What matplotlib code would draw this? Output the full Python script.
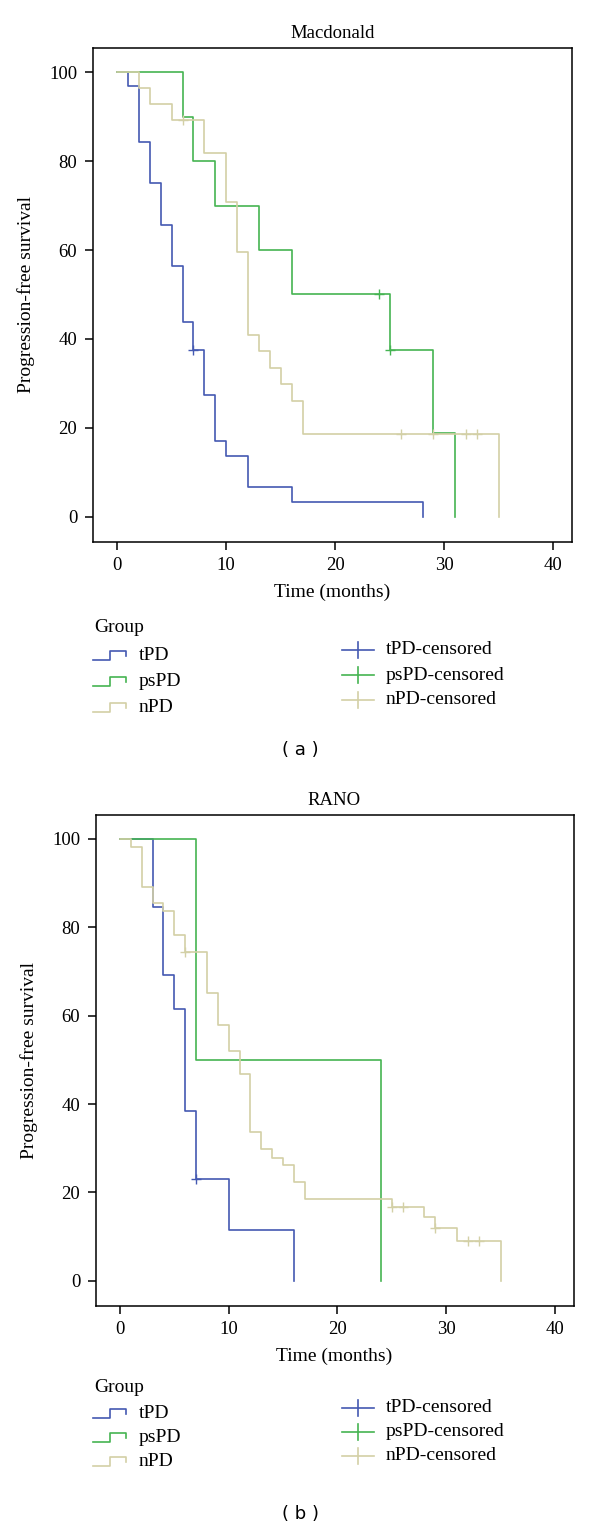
"""
Kaplan-Meier style progression-free survival curves (Macdonald vs RANO)
"""

import matplotlib

matplotlib.use("Agg")
import matplotlib.pyplot as plt

# ---- data -------------------------------------------------------------
groups = ["tPD", "psPD", "nPD"]
colors = {"tPD": "#4459B2", "psPD": "#45B452", "nPD": "#D3D0A6"}

# Macdonald
mac_tpd_t = [0, 1, 2, 3, 4, 5, 6, 7, 8, 9, 10, 12, 16, 28]
mac_tpd_s = [100, 96.8, 84.4, 75.0, 65.6, 56.3, 43.8, 37.5, 27.3, 17.0, 13.6, 6.8, 3.4, 0]
mac_tpd_cens_t = [7]
mac_tpd_cens_s = [37.5]

mac_pspd_t = [0, 6, 7, 9, 13, 16, 25, 29, 31]
mac_pspd_s = [100, 90, 80, 70, 60, 50, 37.5, 18.75, 0]
mac_pspd_cens_t = [24, 25]
mac_pspd_cens_s = [50, 37.5]

mac_npd_t = [0, 2, 3, 5, 8, 10, 11, 12, 13, 14, 15, 16, 17, 35]
mac_npd_s = [100, 96.4, 92.9, 89.3, 81.8, 70.7, 59.5, 40.9, 37.2, 33.5, 29.8, 26.0, 18.6, 0]
mac_npd_cens_t = [6, 26, 29, 32, 33]
mac_npd_cens_s = [89.3, 18.6, 18.6, 18.6, 18.6]

# RANO
rano_tpd_t = [0, 3, 4, 5, 6, 7, 10, 16]
rano_tpd_s = [100, 84.6, 69.2, 61.5, 38.5, 23.1, 11.5, 0]
rano_tpd_cens_t = [7]
rano_tpd_cens_s = [23.1]

rano_pspd_t = [0, 7, 24]
rano_pspd_s = [100, 50, 0]
rano_pspd_cens_t = []
rano_pspd_cens_s = []

rano_npd_t = [0, 1, 2, 3, 4, 5, 6, 8, 9, 10, 11, 12, 13, 14, 15, 16, 17, 25, 28, 29, 31, 35]
rano_npd_s = [100, 98.2, 89.1, 85.5, 83.7, 78.2, 74.5, 65.2, 57.8, 52.1, 46.7, 33.6,
              29.8, 27.9, 26.1, 22.3, 18.6, 16.7, 14.5, 12.0, 8.9, 0]
rano_npd_cens_t = [6, 25, 26, 29, 32, 33]
rano_npd_cens_s = [74.5, 16.7, 16.7, 12.0, 8.9, 8.9]

x_ticks = [0, 10, 20, 30, 40]
y_ticks = [0, 20, 40, 60, 80, 100]

# ---- styling ----------------------------------------------------------
plt.rcParams["font.family"] = ["Liberation Serif", "DejaVu Serif"]
W, H = 600, 1528
FS = 14
FS_TICK = 13.5


def draw_panel(ax, title, curves):
    for name, t, s, ct, cs in curves:
        ax.step(t, s, where="post", color=colors[name], linewidth=1.2)
        if ct:
            ax.plot(ct, cs, linestyle="none", marker="+", markersize=7,
                    markeredgewidth=1.0, color=colors[name])
    ax.set_xlim(-2.25, 41.7)
    ax.set_ylim(-5.6, 105.5)
    ax.set_xticks(x_ticks)
    ax.set_yticks(y_ticks)
    ax.tick_params(direction="out", length=6, width=1.1, labelsize=FS_TICK, pad=5)
    for sp in ax.spines.values():
        sp.set_linewidth(1.1)
    ax.set_title(title, fontsize=FS - 0.5, pad=7)
    ax.set_xlabel("Time (months)", fontsize=FS, labelpad=7)
    ax.set_ylabel("Progression-free survival", fontsize=FS, labelpad=14)
    ax.yaxis.set_label_coords(-0.12, 0.5)


def draw_legend(lax, y_group, y_left, dy_left, y_right, dy_right):
    lax.text(94, y_group, "Group", fontsize=FS, va="center", ha="left")
    for i, name in enumerate(groups):
        y = y_left + i * dy_left
        lax.plot([93, 110, 110, 126, 126], [y + 5, y + 5, y - 4, y - 4, y + 1],
                 color=colors[name], linewidth=1.2)
        lax.text(139, y, name, fontsize=FS, va="center", ha="left")
    for i, name in enumerate(groups):
        y = y_right + i * dy_right
        lax.plot([342, 374], [y, y], color=colors[name], linewidth=1.2)
        lax.plot([358, 358], [y - 8, y + 8], color=colors[name], linewidth=1.2)
        lax.text(386, y, name + "-censored", fontsize=FS, va="center", ha="left")


fig = plt.figure(figsize=(W / 100, H / 100), dpi=100)

ax1 = fig.add_axes([92.5 / W, 1 - 541.7 / H, 479.5 / W, 494 / H])
draw_panel(ax1, "Macdonald", [
    ("tPD", mac_tpd_t, mac_tpd_s, mac_tpd_cens_t, mac_tpd_cens_s),
    ("psPD", mac_pspd_t, mac_pspd_s, mac_pspd_cens_t, mac_pspd_cens_s),
    ("nPD", mac_npd_t, mac_npd_s, mac_npd_cens_t, mac_npd_cens_s),
])

ax2 = fig.add_axes([95.5 / W, 1 - 1305.5 / H, 478 / W, 490.8 / H])
draw_panel(ax2, "RANO", [
    ("tPD", rano_tpd_t, rano_tpd_s, rano_tpd_cens_t, rano_tpd_cens_s),
    ("psPD", rano_pspd_t, rano_pspd_s, rano_pspd_cens_t, rano_pspd_cens_s),
    ("nPD", rano_npd_t, rano_npd_s, rano_npd_cens_t, rano_npd_cens_s),
])

# overlay in pixel coordinates for legends and panel labels
lax = fig.add_axes([0, 0, 1, 1], zorder=-1)
lax.set_xlim(0, W)
lax.set_ylim(H, 0)
lax.axis("off")

draw_legend(lax, 628, 655, 26, 650, 25)
draw_legend(lax, 1388, 1413, 24, 1408, 24)

lax.text(300, 750, "( a )", fontsize=FS - 1, ha="center", va="center",
         family=["DejaVu Sans"])
lax.text(300, 1514, "( b )", fontsize=FS - 1, ha="center", va="center",
         family=["DejaVu Sans"])

fig.savefig("out.png", dpi=100)
